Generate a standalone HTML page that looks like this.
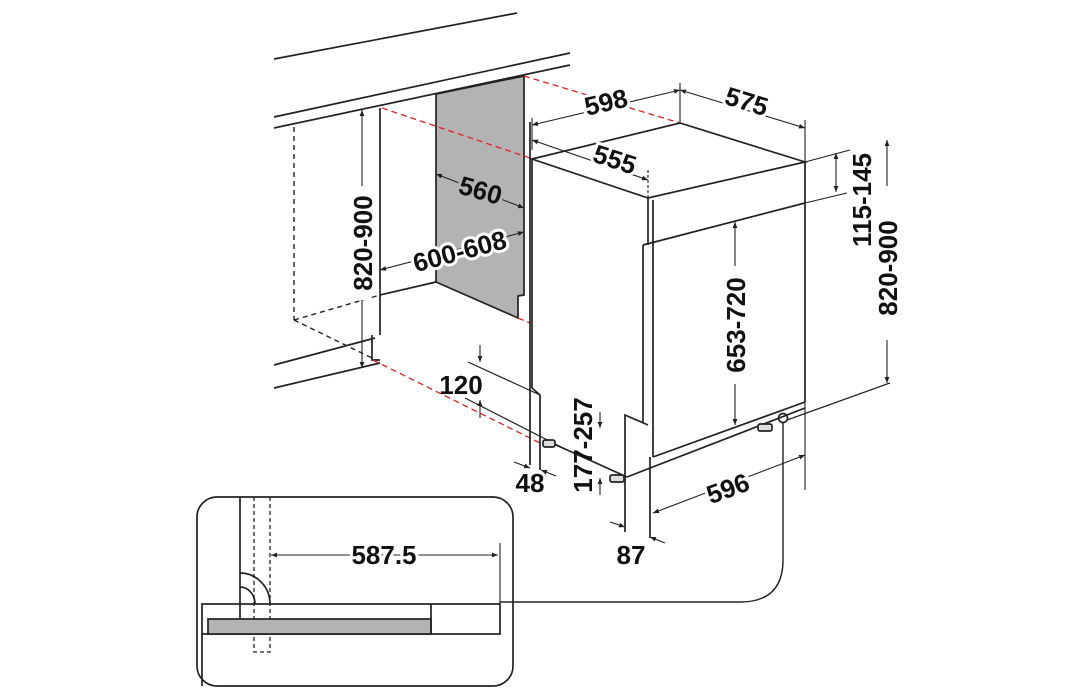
<!DOCTYPE html>
<html><head><meta charset="utf-8"><style>
html,body{margin:0;padding:0;background:#fff}
svg{display:block}
text{font-family:"Liberation Sans",sans-serif;font-weight:bold;font-size:26px;fill:#111}
</style></head><body>
<svg width="1091" height="700" viewBox="0 0 1091 700" xmlns="http://www.w3.org/2000/svg">
<defs>
<marker id="a" viewBox="0 0 10 10" refX="10" refY="5" markerWidth="9" markerHeight="6" orient="auto-start-reverse" markerUnits="userSpaceOnUse"><path d="M0,1 L10,5 L0,9z" fill="#222"/></marker>
</defs>
<g stroke="#222" stroke-width="1.7" fill="none">
<line x1="274" y1="59" x2="517" y2="13"/>
<line x1="274" y1="117" x2="570" y2="53"/>
<line x1="274" y1="128" x2="570" y2="65"/>
<polygon points="436,94 524,76 524,295 518,296 518,318 436,282" fill="#b3b3b3"/>
<line x1="380" y1="108" x2="380" y2="335"/>
<line x1="380" y1="295" x2="436" y2="282"/>
<line x1="274" y1="365" x2="375" y2="338"/>
<line x1="274" y1="388" x2="380" y2="363"/>
<polyline points="372,335 372,360 380,360"/>
<g stroke-dasharray="5,4" stroke-width="1.4">
<line x1="294" y1="127" x2="294" y2="320"/>
<line x1="294" y1="320" x2="380" y2="295"/>
<line x1="294" y1="320" x2="372" y2="358"/>
</g>
<g stroke="#e02020" stroke-dasharray="6,4" stroke-width="1.3">
<line x1="382" y1="108" x2="530" y2="158"/>
<line x1="524" y1="76" x2="680" y2="123"/>
<line x1="373" y1="360" x2="540" y2="443"/>
<line x1="518" y1="318" x2="530" y2="323"/>
</g>
<line x1="530" y1="122" x2="530" y2="465"/>
<polygon points="532,159 680,123 805,162 648,198"/>
<line x1="648" y1="198" x2="648" y2="245"/>
<line x1="653" y1="200" x2="653" y2="457"/>
<line x1="643" y1="245" x2="643" y2="422"/>
<line x1="643" y1="245" x2="805" y2="203"/>
<line x1="805" y1="162" x2="805" y2="402"/>
<line x1="653" y1="457" x2="805" y2="402"/>
<polyline points="532,159 532,388 540,395 540,470"/>
<polyline points="625,532 625,415 648,425"/>
<line x1="650" y1="457" x2="650" y2="538"/>
<line x1="545" y1="440" x2="627" y2="477"/>
<line x1="627" y1="477" x2="805" y2="408"/>
<line x1="468" y1="362" x2="540" y2="395" stroke-width="1.2"/>
<line x1="465" y1="398" x2="563" y2="448" stroke-width="1.2"/>
<rect x="543" y="440" width="12" height="7" rx="2" fill="#ddd"/>
<rect x="610" y="475" width="14" height="7" rx="2" fill="#ddd"/>
<rect x="758" y="424" width="14" height="7" rx="2" fill="#ddd"/>
<circle cx="783" cy="418" r="4.5"/>
<line x1="787" y1="420" x2="890" y2="383" stroke-width="1.2"/>
<path d="M783,423 L783,560 Q783,602 740,602 L500,602" stroke-width="1.4"/>
<g marker-start="url(#a)" marker-end="url(#a)" stroke-width="1.1">
<line x1="362" y1="110" x2="362" y2="368"/>
<line x1="532" y1="125" x2="680" y2="90"/>
<line x1="680" y1="90" x2="805" y2="128"/>
<line x1="532" y1="140" x2="648" y2="180"/>
<line x1="836" y1="153" x2="836" y2="192"/>
<line x1="735" y1="222" x2="735" y2="425"/>
<line x1="887" y1="140" x2="887" y2="383"/>
<line x1="653" y1="513" x2="805" y2="455"/>
<line x1="436" y1="174" x2="524" y2="208"/>
<line x1="380" y1="270" x2="524" y2="232"/>
<line x1="271" y1="555" x2="498" y2="555"/>
</g>
<g stroke-width="1.1">
<line x1="532" y1="118" x2="532" y2="150"/>
<line x1="680" y1="83" x2="680" y2="123"/>
<line x1="805" y1="120" x2="805" y2="490"/>
<line x1="805" y1="162" x2="850" y2="150"/>
<line x1="805" y1="203" x2="847" y2="193"/>
<line x1="648" y1="170" x2="648" y2="198" stroke-dasharray="3,2"/>
</g>
<g stroke-width="1.1" marker-end="url(#a)">
<line x1="480" y1="345" x2="480" y2="362"/>
<line x1="480" y1="418" x2="480" y2="400"/>
<line x1="600" y1="412" x2="600" y2="428"/>
<line x1="600" y1="495" x2="600" y2="478"/>
<line x1="514" y1="462" x2="530" y2="468"/>
<line x1="556" y1="476" x2="541" y2="470"/>
<line x1="610" y1="522" x2="625" y2="527"/>
<line x1="665" y1="543" x2="650" y2="537"/>
</g>
<rect x="197" y="497" width="316" height="189" rx="20"/>
<line x1="240" y1="497" x2="240" y2="619"/>
<g stroke-dasharray="4,3" stroke-width="1.3"><polyline points="254,497 254,652 270,652 270,497"/></g>
<rect x="202" y="604" width="298" height="30"/>
<rect x="208" y="619" width="223" height="15" fill="#b3b3b3"/>
<line x1="431" y1="604" x2="431" y2="634"/>
<line x1="202" y1="634" x2="202" y2="686"/>
<path d="M240,573 A30,31 0 0 1 270,604"/>
<path d="M240,587 A15,17 0 0 1 255,604"/>
<line x1="500" y1="543" x2="500" y2="604" stroke-width="1.1"/>
</g>
<g stroke="#fff" stroke-width="12">
<line x1="362" y1="186" x2="362" y2="300"/>
<line x1="735" y1="266" x2="735" y2="384"/>
<line x1="887" y1="186" x2="887" y2="340"/>
</g>
<text transform="translate(608,111) rotate(-13)" text-anchor="middle" stroke="#fff" stroke-width="6" paint-order="stroke">598</text>
<text transform="translate(744,110) rotate(17)" text-anchor="middle" stroke="#fff" stroke-width="6" paint-order="stroke">575</text>
<text transform="translate(612,168) rotate(18)" text-anchor="middle" stroke="#fff" stroke-width="6" paint-order="stroke">555</text>
<text transform="translate(478,199) rotate(16)" text-anchor="middle" stroke="#b3b3b3" stroke-width="6" paint-order="stroke">560</text>
<text transform="translate(462,260) rotate(-15)" text-anchor="middle" stroke="#fff" stroke-width="6" paint-order="stroke">600-608</text>
<text transform="translate(372,243) rotate(-90)" text-anchor="middle">820-900</text>
<text transform="translate(745,325) rotate(-90)" text-anchor="middle">653-720</text>
<text transform="translate(871,200) rotate(-90)" text-anchor="middle">115-145</text>
<text transform="translate(897,268) rotate(-90)" text-anchor="middle">820-900</text>
<text transform="translate(592,445) rotate(-90)" text-anchor="middle">177-257</text>
<text transform="translate(731,497) rotate(-20)" text-anchor="middle" stroke="#fff" stroke-width="6" paint-order="stroke">596</text>
<text x="461" y="394" text-anchor="middle">120</text>
<text x="530" y="492" text-anchor="middle">48</text>
<text x="631" y="564" text-anchor="middle">87</text>
<text x="384" y="564" text-anchor="middle" stroke="#fff" stroke-width="6" paint-order="stroke">587.5</text>
</svg>
</body></html>
